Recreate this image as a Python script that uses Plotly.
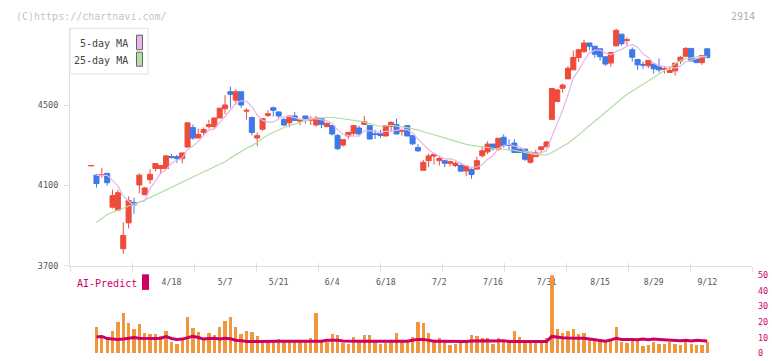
import plotly.graph_objects as go
import pandas as pd

# ---------------- data ----------------
idx = list(range(116))
opens = [4197,4151,4150,4160,3991,3976,3784,3913,4015,4102,4054,4128,4184,4184,4184,4243,4243,4233,4291,4388,
         4336,4364,4393,4393,4436,4482,4567,4525,4567,4470,4438,4336,4380,4449,4487,4466,4428,4412,4446,4420,
         4446,4425,4401,4433,4393,4398,4349,4301,4346,4360,4386,4404,4398,4357,4357,4346,4394,4403,4369,4398,
         4348,4289,4175,4223,4246,4223,4223,4210,4199,4199,4172,4180,4181,4248,4267,4306,4281,4340,4302,4311,
         4281,4281,4215,4243,4279,4292,4429,4518,4584,4631,4676,4738,4768,4810,4794,4781,4741,4710,4796,4854,
         4822,4776,4728,4703,4696,4705,4694,4679,4663,4671,4720,4744,4783,4730,4712,4781]
highs = [4199,4156,4188,4160,4078,4078,3916,4045,4039,4160,4092,4180,4209,4199,4252,4257,4252,4262,4412,4403,
         4383,4388,4427,4436,4485,4550,4592,4579,4567,4485,4443,4364,4433,4474,4493,4470,4436,4446,4466,4433,
         4446,4445,4446,4433,4414,4398,4357,4328,4364,4401,4398,4446,4398,4377,4377,4398,4419,4432,4377,4398,
         4348,4306,4226,4259,4259,4247,4226,4223,4218,4213,4196,4185,4243,4291,4320,4306,4335,4354,4330,4330,
         4281,4281,4265,4277,4292,4321,4583,4581,4607,4694,4772,4781,4825,4810,4794,4781,4744,4762,4883,4854,
         4838,4788,4728,4717,4723,4713,4733,4696,4692,4712,4744,4789,4783,4730,4747,4781]
lows = [4197,4089,4138,4099,3984,3973,3759,3885,3958,4060,4049,4108,4170,4160,4180,4233,4213,4210,4291,4327,
        4336,4349,4383,4378,4436,4456,4487,4501,4487,4428,4349,4296,4372,4441,4443,4433,4396,4390,4424,4401,
        4409,4401,4393,4385,4390,4349,4276,4293,4331,4348,4348,4401,4331,4331,4336,4346,4369,4356,4348,4346,
        4301,4267,4175,4191,4204,4199,4191,4194,4191,4171,4146,4133,4181,4239,4256,4272,4272,4288,4273,4264,
        4264,4222,4207,4243,4259,4292,4429,4514,4563,4631,4676,4715,4760,4773,4736,4722,4696,4692,4793,4796,
        4798,4717,4676,4681,4684,4657,4663,4657,4660,4647,4705,4738,4720,4712,4701,4733]
closes = [4199,4109,4153,4113,4049,4063,3850,4024,4002,4151,4087,4155,4209,4199,4247,4240,4233,4262,4412,4336,
          4354,4378,4403,4436,4485,4501,4554,4567,4501,4474,4364,4348,4433,4457,4474,4446,4401,4446,4424,4428,
          4433,4433,4436,4404,4409,4356,4283,4328,4364,4398,4356,4417,4331,4354,4349,4398,4414,4356,4377,4346,
          4307,4272,4215,4247,4255,4234,4210,4218,4210,4171,4196,4154,4223,4272,4306,4283,4335,4298,4299,4264,
          4264,4230,4265,4262,4292,4316,4583,4576,4600,4684,4738,4776,4810,4794,4754,4741,4705,4762,4873,4806,
          4826,4739,4701,4700,4723,4681,4676,4682,4673,4709,4739,4783,4720,4712,4747,4738]

# moving-average values for the first days (window reaches before the shown range)
ma5_head = [4150, 4151, 4150]
ma25_head = [3915,3935,3955,3966,3975,3986,3997,4006,4015,4027,4039,4052,4066,4080,4093,4106,4118,4130,4142,
             4154,4166,4179,4193]

volume = [16.6,11.3,10.3,13.9,19.5,25.8,18.9,15.3,18.3,12.6,12.0,12.0,10.9,13.9,7.1,5.7,8.8,23.3,16.0,13.4,
          8.8,12.6,11.3,16.4,20.2,23.3,16.6,12.0,14.1,13.4,10.7,8.2,7.1,8.2,8.8,7.1,8.2,6.7,6.7,6.7,
          9.6,25.8,7.1,6.7,12.0,11.3,6.3,5.7,10.1,6.7,11.3,11.3,6.7,5.7,6.3,6.7,13.0,6.7,6.7,10.1,
          19.5,18.9,12.6,7.6,9.2,7.0,5.0,5.7,6.7,7.6,11.3,10.7,9.2,9.2,5.7,9.2,7.1,7.1,13.9,10.1,
          7.1,7.1,7.1,7.1,9.2,50.0,15.1,13.0,13.9,15.1,12.0,12.6,8.2,9.2,7.6,7.1,7.6,16.4,7.1,6.3,
          8.8,8.2,4.6,5.0,7.1,5.7,5.7,6.7,5.7,5.0,7.1,5.7,5.0,5.0,6.7]
ai_predict = [10.3,10.7,9.3,9.0,8.8,9.0,9.6,10.0,9.6,9.4,9.4,9.4,9.6,10.6,9.4,8.8,9.0,10.0,10.8,10.0,
              9.0,9.4,9.6,9.0,9.5,9.2,8.3,8.0,7.5,7.5,7.6,7.6,7.6,7.6,7.6,7.6,7.6,7.6,7.6,7.6,
              7.6,7.8,7.6,8.3,8.3,8.3,7.8,7.6,7.6,7.6,7.6,7.6,7.6,7.6,7.6,7.6,7.6,7.6,7.6,8.3,
              8.8,8.8,8.0,7.6,7.6,7.5,7.5,7.5,7.5,7.5,7.8,8.0,8.0,8.0,7.8,8.0,8.0,7.5,7.5,7.5,
              7.5,7.5,7.5,7.5,7.5,10.7,10.2,9.9,9.7,9.7,9.5,9.5,9.0,8.5,7.8,7.6,8.5,9.5,8.7,8.8,
              8.8,8.5,9.0,8.5,9.0,8.8,8.6,8.3,8.3,8.0,8.2,7.8,8.2,8.0,7.8]

date_labels = ["4/18", "5/7", "5/21", "6/4", "6/18", "7/2", "7/16", "7/31", "8/15", "8/29", "9/12"]
date_idx = [15, 25, 35, 45, 55, 65, 75, 85, 95, 105, 115]
price_ticks = [3700, 4100, 4500]
vol_ticks = [0, 10, 20, 30, 40, 50]

# ---------------- derived ----------------
cl = pd.Series(closes, dtype=float)
ma5 = cl.rolling(5).mean().tolist()
ma25 = cl.rolling(25).mean().tolist()
for k, v in enumerate(ma5_head):
    ma5[1 + k] = v
for k, v in enumerate(ma25_head):
    ma25[1 + k] = v
ma5[0] = None
ma25[0] = None

# ---------------- styling ----------------
W, H = 772, 361
FONT = "DejaVu Sans Mono"
RED = "#ef4b3b"
BLUE = "#3f78e8"
MA5C = "#e8b4ec"
MA25C = "#b4dca6"
MAG = "#cc0066"
ORANGE = "#f0963c"
AX = "#e0e0e0"

def fx(X):
    return X / W

def fy(Y):
    return (H - Y) / H

XR = [-3.94, 123.35]
YR = [3700, 4883]

fig = go.Figure()
fig.add_trace(go.Scatter(x=idx, y=ma25, mode="lines", line=dict(color=MA25C, width=1.2),
                         hoverinfo="skip", showlegend=False))
fig.add_trace(go.Scatter(x=idx, y=ma5, mode="lines", line=dict(color=MA5C, width=1.2),
                         hoverinfo="skip", showlegend=False))
fig.add_trace(go.Candlestick(x=idx, open=opens, high=highs, low=lows, close=closes,
                             increasing=dict(line=dict(color=RED, width=1), fillcolor=RED),
                             decreasing=dict(line=dict(color=BLUE, width=1), fillcolor=BLUE),
                             whiskerwidth=0, showlegend=False))
fig.add_trace(go.Bar(x=idx[1:], y=volume, marker=dict(color=ORANGE, line=dict(width=0)), width=0.62,
                     xaxis="x2", yaxis="y2", showlegend=False))
fig.add_trace(go.Scatter(x=idx[1:], y=ai_predict, mode="lines", line=dict(color=MAG, width=3),
                         xaxis="x2", yaxis="y2", showlegend=False))
# helper traces so the tick-mark axes are drawn
fig.add_trace(go.Scatter(x=[None], y=[None], xaxis="x3", yaxis="y", showlegend=False))
fig.add_trace(go.Scatter(x=[None], y=[None], xaxis="x4", yaxis="y", showlegend=False))

dom_x = [fx(70), fx(752)]
tick_step = (XR[1] - XR[0]) / 11

fig.update_layout(
    width=W, height=H, margin=dict(l=0, r=0, t=0, b=0),
    paper_bgcolor="white", plot_bgcolor="white",
    font=dict(family=FONT, size=8.5, color="#555555"),
    boxgap=0.03, boxgroupgap=0.03, bargap=0,
    xaxis=dict(domain=dom_x, range=XR, anchor="y", showgrid=False, zeroline=False,
               showline=True, linecolor=AX, linewidth=1, rangeslider=dict(visible=False),
               tickmode="array", tickvals=date_idx, ticktext=date_labels, ticks="",
               ticklabelstandoff=9, tickfont=dict(family=FONT, size=8.2, color="#555555")),
    xaxis3=dict(overlaying="x", range=XR, anchor="y", showgrid=False, zeroline=False,
                showline=False, tickmode="linear", tick0=XR[0], dtick=tick_step,
                ticks="outside", ticklen=5, tickcolor=AX, tickwidth=1, showticklabels=False),
    xaxis4=dict(overlaying="x", range=XR, anchor="y", showgrid=False, zeroline=False,
                showline=False, tickmode="linear", tick0=XR[0], dtick=tick_step,
                ticks="inside", ticklen=3, tickcolor=AX, tickwidth=1, showticklabels=False),
    yaxis=dict(domain=[fy(268), fy(24)], range=YR, anchor="x", showgrid=False, zeroline=False,
               showline=True, linecolor=AX, linewidth=1,
               tickmode="array", tickvals=price_ticks, ticks="outside", ticklen=5, tickcolor=AX,
               ticklabelstandoff=4, tickfont=dict(family=FONT, size=8.5, color="#555555")),
    xaxis2=dict(domain=dom_x, range=XR, anchor="y2", visible=False),
    yaxis2=dict(domain=[fy(358), fy(278)], range=[0, 50], anchor="x2", side="right",
                showgrid=False, zeroline=False, showline=False, ticks="",
                tickmode="array", tickvals=vol_ticks, ticklabelstandoff=5,
                tickfont=dict(family=FONT, size=8.5, color=MAG)),
)

shapes = [
    # MA legend box
    dict(type="rect", xref="paper", yref="paper", x0=fx(70), x1=fx(148), y0=fy(71), y1=fy(24),
         line=dict(color=AX, width=1), fillcolor="white", layer="above"),
    dict(type="rect", xref="paper", yref="paper", x0=fx(136.5), x1=fx(142.5), y0=fy(46), y1=fy(31),
         line=dict(color="#666666", width=1), fillcolor=MA5C, layer="above"),
    dict(type="rect", xref="paper", yref="paper", x0=fx(136.5), x1=fx(142.5), y0=fy(63), y1=fy(48.5),
         line=dict(color="#666666", width=1), fillcolor=MA25C, layer="above"),
    # AI-Predict swatch
    dict(type="rect", xref="paper", yref="paper", x0=fx(142), x1=fx(149), y0=fy(293), y1=fy(277),
         line=dict(width=0), fillcolor=MAG, layer="above"),
]
annotations = [
    dict(text="(C)https://chartnavi.com/", xref="paper", yref="paper", x=fx(14), y=fy(12),
         xanchor="left", yanchor="middle", showarrow=False,
         font=dict(family=FONT, size=10, color="#c4c4c4")),
    dict(text="2914", xref="paper", yref="paper", x=fx(757), y=fy(12),
         xanchor="right", yanchor="middle", showarrow=False,
         font=dict(family=FONT, size=10, color="#b0b0b0")),
    dict(text="5-day MA", xref="paper", yref="paper", x=fx(130), y=fy(40),
         xanchor="right", yanchor="middle", showarrow=False,
         font=dict(family=FONT, size=10, color="#444444")),
    dict(text="25-day MA", xref="paper", yref="paper", x=fx(130), y=fy(57),
         xanchor="right", yanchor="middle", showarrow=False,
         font=dict(family=FONT, size=10, color="#444444")),
    dict(text="AI-Predict", xref="paper", yref="paper", x=fx(75), y=fy(286),
         xanchor="left", yanchor="middle", showarrow=False,
         font=dict(family=FONT, size=10, color=MAG)),
]
fig.update_layout(shapes=shapes, annotations=annotations)

fig.write_html("out.html", config={"displayModeBar": False, "responsive": False},
               post_script="document.body.style.margin='0px';document.body.style.padding='0px';"
                           "document.documentElement.style.overflow='hidden';")
